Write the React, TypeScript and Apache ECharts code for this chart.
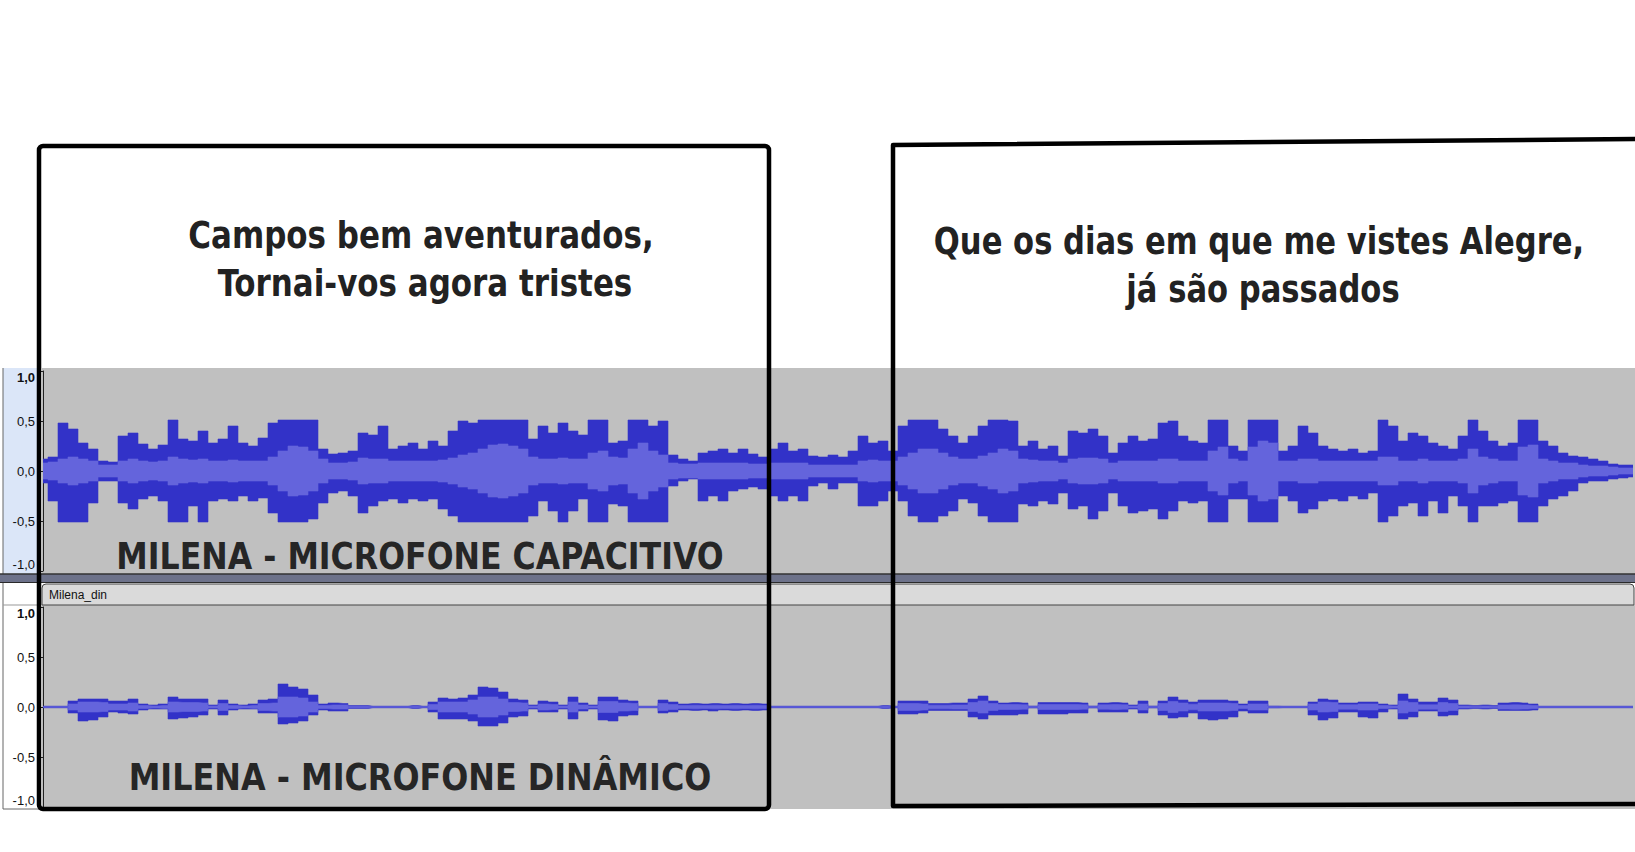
import React, { useEffect, useRef } from "react";
import * as echarts from "echarts";

// sample index (one sample per ~10 screen px along the track)
const t1Top = [
  0.12,0.14,0.48,0.42,0.28,0.22,0.10,0.09,0.35,0.38,
  0.27,0.22,0.26,0.51,0.32,0.30,0.40,0.28,0.32,0.45,
  0.28,0.25,0.33,0.48,0.51,0.51,0.51,0.51,0.22,0.17,
  0.18,0.20,0.38,0.36,0.45,0.22,0.25,0.28,0.22,0.30,
  0.25,0.40,0.50,0.48,0.51,0.51,0.51,0.51,0.51,0.32,
  0.45,0.38,0.48,0.40,
  0.36,0.51,0.51,0.28,0.30,0.51,0.51,0.45,0.50,0.16,
  0.12,0.10,0.18,0.20,0.22,0.18,0.22,0.17,0.14,0.22,
  0.28,0.20,0.22,0.15,0.14,0.16,0.14,0.20,0.35,0.28,
  0.30,0.20,0.45,0.51,0.51,0.51,0.42,0.35,0.28,0.35,
  0.45,0.51,0.51,0.50,0.25,0.30,0.22,0.25,0.15,0.40,
  0.38,0.42,0.35,
  0.18,0.28,0.35,0.30,0.32,0.48,0.50,0.35,0.30,0.28,
  0.51,0.51,0.25,0.20,0.51,0.51,0.51,0.20,0.25,0.45,
  0.38,0.25,0.22,0.20,0.22,0.18,0.20,0.51,0.45,0.30,
  0.38,0.35,0.28,0.25,0.22,0.35,0.51,0.40,0.30,0.25,
  0.28,0.51,0.51,0.30,0.25,0.18,0.15,0.14,0.12,0.10,
  0.07,0.06,0.06,
];
const t1Bot = [
  0.12,0.30,0.51,0.51,0.51,0.32,0.10,0.10,0.32,0.38,
  0.28,0.25,0.30,0.51,0.51,0.35,0.51,0.30,0.28,0.30,
  0.25,0.30,0.27,0.42,0.51,0.51,0.51,0.48,0.32,0.22,
  0.20,0.25,0.42,0.35,0.30,0.28,0.32,0.28,0.30,0.28,
  0.38,0.45,0.51,0.51,0.51,0.51,0.51,0.51,0.51,0.45,
  0.30,0.40,0.51,0.40,
  0.28,0.51,0.51,0.33,0.35,0.51,0.51,0.51,0.51,0.15,
  0.10,0.08,0.30,0.25,0.30,0.20,0.18,0.16,0.18,0.25,
  0.30,0.25,0.30,0.15,0.12,0.18,0.12,0.12,0.35,0.35,
  0.30,0.20,0.30,0.45,0.51,0.51,0.45,0.40,0.28,0.32,
  0.45,0.51,0.51,0.51,0.33,0.35,0.30,0.33,0.22,0.38,
  0.35,0.48,0.40,
  0.22,0.35,0.42,0.40,0.38,0.48,0.40,0.30,0.32,0.30,
  0.51,0.51,0.28,0.28,0.51,0.51,0.51,0.25,0.30,0.42,
  0.38,0.30,0.28,0.30,0.25,0.28,0.22,0.51,0.45,0.35,
  0.32,0.45,0.30,0.42,0.25,0.35,0.51,0.35,0.35,0.32,
  0.30,0.51,0.51,0.35,0.28,0.25,0.20,0.12,0.10,0.10,
  0.08,0.07,0.06,
];
const t1Rms = [
  0.08,0.09,0.12,0.14,0.12,0.10,0.06,0.06,0.10,0.12,
  0.10,0.09,0.10,0.14,0.12,0.11,0.12,0.10,0.10,0.11,
  0.10,0.10,0.10,0.14,0.20,0.25,0.24,0.20,0.12,0.08,
  0.08,0.09,0.13,0.12,0.12,0.10,0.10,0.10,0.10,0.10,
  0.11,0.13,0.16,0.18,0.22,0.26,0.27,0.25,0.22,0.14,
  0.12,0.12,0.13,0.12,
  0.12,0.18,0.20,0.14,0.13,0.22,0.28,0.20,0.16,0.08,
  0.07,0.07,0.08,0.08,0.08,0.08,0.08,0.07,0.07,0.08,
  0.08,0.08,0.08,0.06,0.06,0.06,0.06,0.06,0.10,0.11,
  0.10,0.10,0.14,0.18,0.22,0.22,0.18,0.14,0.12,0.12,
  0.15,0.18,0.22,0.20,0.12,0.11,0.10,0.10,0.08,0.12,
  0.13,0.13,0.12,
  0.08,0.10,0.10,0.10,0.10,0.12,0.12,0.10,0.10,0.10,
  0.20,0.24,0.12,0.10,0.24,0.30,0.28,0.10,0.10,0.12,
  0.12,0.10,0.10,0.10,0.10,0.10,0.10,0.14,0.14,0.10,
  0.10,0.12,0.10,0.10,0.10,0.12,0.22,0.14,0.12,0.10,
  0.10,0.24,0.26,0.12,0.10,0.08,0.08,0.06,0.05,0.05,
  0.04,0.03,0.03,
];

const t2Top = [
  0.008,0.008,0.008,0.06,0.08,0.08,0.08,0.06,0.06,0.08,
  0.03,0.02,0.03,0.10,0.08,0.08,0.08,0.02,0.07,0.03,
  0.02,0.03,0.07,0.08,0.23,0.20,0.18,0.12,0.03,0.04,
  0.035,0.015,0.015,0.008,0.008,0.008,0.008,0.015,0.008,0.05,
  0.09,0.08,0.09,0.12,0.20,0.19,0.15,0.08,0.07,0.02,
  0.06,0.05,0.02,0.10,0.04,0.02,0.10,0.10,0.07,0.06,
  0.008,0.008,0.07,0.05,0.03,0.035,0.03,0.035,0.03,0.035,
  0.03,0.035,0.03,0.008,0.008,0.008,0.008,0.008,0.008,0.008,
  0.008,0.008,0.008,0.008,0.015,0.008,0.06,0.06,0.06,0.035,
  0.035,0.04,0.04,0.08,0.11,0.06,0.04,0.045,0.04,0.01,
  0.045,0.045,0.045,0.045,0.04,0.01,0.04,0.045,0.04,0.02,
  0.06,0.01,0.06,0.10,0.07,0.05,0.07,0.07,0.07,0.06,
  0.03,0.06,0.06,0.01,0.008,0.008,0.008,0.05,0.08,0.07,
  0.04,0.04,0.05,0.05,0.03,0.02,0.13,0.08,0.05,0.05,
  0.09,0.07,0.02,0.015,0.02,0.015,0.04,0.045,0.04,0.03,
  0.008,0.008,0.008,0.008,0.008,0.008,0.008,0.008,0.008,0.008,
];
const t2Bot = [
  0.008,0.008,0.008,0.06,0.14,0.13,0.10,0.05,0.06,0.07,
  0.03,0.02,0.02,0.12,0.11,0.10,0.08,0.02,0.08,0.03,
  0.02,0.02,0.06,0.06,0.17,0.16,0.14,0.08,0.03,0.04,
  0.04,0.015,0.015,0.008,0.008,0.008,0.008,0.015,0.008,0.05,
  0.12,0.12,0.12,0.14,0.19,0.19,0.16,0.10,0.09,0.02,
  0.05,0.05,0.02,0.12,0.04,0.02,0.13,0.14,0.09,0.08,
  0.008,0.008,0.06,0.05,0.03,0.035,0.03,0.04,0.03,0.035,
  0.03,0.035,0.03,0.008,0.008,0.008,0.008,0.008,0.008,0.008,
  0.008,0.008,0.008,0.008,0.015,0.008,0.07,0.07,0.06,0.035,
  0.035,0.035,0.035,0.10,0.12,0.08,0.08,0.08,0.07,0.01,
  0.07,0.07,0.07,0.06,0.06,0.01,0.05,0.05,0.05,0.02,
  0.06,0.01,0.08,0.11,0.10,0.06,0.12,0.13,0.12,0.10,
  0.04,0.06,0.06,0.01,0.008,0.008,0.008,0.08,0.13,0.11,
  0.05,0.05,0.10,0.11,0.05,0.02,0.12,0.10,0.04,0.04,
  0.09,0.08,0.02,0.015,0.02,0.015,0.035,0.035,0.035,0.03,
  0.008,0.008,0.008,0.008,0.008,0.008,0.008,0.008,0.008,0.008,
];
const t2Rms = [
  0.004,0.004,0.004,0.03,0.05,0.05,0.045,0.03,0.03,0.04,
  0.015,0.01,0.015,0.05,0.045,0.045,0.04,0.01,0.035,0.015,
  0.01,0.015,0.035,0.04,0.10,0.10,0.09,0.05,0.015,0.02,
  0.02,0.008,0.008,0.004,0.004,0.004,0.004,0.008,0.004,0.025,
  0.05,0.05,0.05,0.07,0.10,0.10,0.08,0.045,0.04,0.01,
  0.03,0.025,0.01,0.05,0.02,0.01,0.055,0.055,0.04,0.035,
  0.004,0.004,0.035,0.025,0.015,0.018,0.015,0.018,0.015,0.018,
  0.015,0.018,0.015,0.004,0.004,0.004,0.004,0.004,0.004,0.004,
  0.004,0.004,0.004,0.004,0.008,0.004,0.035,0.035,0.03,0.018,
  0.018,0.02,0.02,0.045,0.06,0.035,0.025,0.025,0.022,0.005,
  0.025,0.025,0.025,0.025,0.022,0.005,0.022,0.025,0.022,0.01,
  0.03,0.005,0.035,0.055,0.04,0.028,0.04,0.04,0.04,0.035,
  0.015,0.03,0.03,0.005,0.004,0.004,0.004,0.03,0.05,0.045,
  0.022,0.022,0.03,0.03,0.015,0.01,0.06,0.045,0.022,0.022,
  0.045,0.035,0.01,0.008,0.01,0.008,0.02,0.022,0.02,0.015,
  0.004,0.004,0.004,0.004,0.004,0.004,0.004,0.004,0.004,0.004,
];

const titleLeft = ["Campos bem aventurados,", "Tornai-vos agora tristes"];
const titleRight = ["Que os dias em que me vistes Alegre,", "já são passados"];
const trackLabels = ["MILENA - MICROFONE CAPACITIVO", "MILENA - MICROFONE DINÂMICO"];
const clipName = "Milena_din";

const PEAK = "#3232c8";
const RMS = "#6464dc";
const BG = "#c0c0c0";
const FONT_T = "'Liberation Sans Narrow', 'DejaVu Sans Condensed', 'Liberation Sans', sans-serif";

function band(name: string, vals: number[], sign: number, color: string, idx: number) {
  return {
    name,
    type: "line",
    xAxisIndex: idx,
    yAxisIndex: idx,
    symbol: "none",
    silent: true,
    step: "middle",
    lineStyle: { width: 0.6, color },
    areaStyle: { color, opacity: 1 },
    data: vals.map((v, i) => [i, sign * v]),
  };
}

function bigText(t: string, x: number, y: number, sx: number, fill: string) {
  return {
    type: "text",
    z: 100,
    x,
    y,
    scaleX: sx,
    style: {
      text: t, x: 0, y: 0, textAlign: "center", textVerticalAlign: "middle",
      fontSize: 37, fontWeight: "bold", fontFamily: FONT_T, fill,
    },
  };
}

export default function App() {
  const ref = useRef<HTMLDivElement>(null);
  useEffect(() => {
    if (!ref.current) return;
    const chart = echarts.init(ref.current, undefined, { renderer: "svg" });
    const fmt = (v: number) => {
      const s = v.toFixed(1).replace(".", ",");
      return v === 1 ? "{b|" + s + "}" : s;
    };
    const yAxisCommon = {
      type: "value",
      min: -1,
      max: 1,
      interval: 0.5,
      position: "left",
      offset: 5,
      axisLine: { show: true, lineStyle: { color: "#222", width: 1 } },
      axisTick: { show: true, length: 3, lineStyle: { color: "#222" } },
      splitLine: { show: false },
      axisLabel: {
        margin: 2,
        fontSize: 13,
        color: "#111",
        fontFamily: "'Liberation Sans', Arial, sans-serif",
        formatter: fmt,
        verticalAlignMinLabel: "bottom",
        verticalAlignMaxLabel: "top",
        rich: { b: { fontWeight: "bold", fontSize: 13, color: "#111" } },
      },
    };
    const xAxisCommon = {
      type: "value",
      min: -0.1,
      max: 159.2,
      show: false,
    };
    const graphics: any[] = [
      // ruler backgrounds
      { type: "rect", z: 0, shape: { x: 3, y: 368, width: 34, height: 206 }, style: { fill: "#dbe6f8" } },
      { type: "rect", z: 0, shape: { x: 3, y: 583, width: 34, height: 226 }, style: { fill: "#ffffff" } },
      { type: "line", z: 1, shape: { x1: 3, y1: 368, x2: 3, y2: 809 }, style: { stroke: "#666", lineWidth: 1 } },
      { type: "line", z: 1, shape: { x1: 3, y1: 605, x2: 37, y2: 605 }, style: { stroke: "#999", lineWidth: 1 } },
      { type: "line", z: 1, shape: { x1: 3, y1: 809, x2: 42, y2: 809 }, style: { stroke: "#666", lineWidth: 1 } },
      // track backgrounds
      { type: "rect", z: 0, shape: { x: 42, y: 368, width: 1593, height: 206 }, style: { fill: BG } },
      { type: "rect", z: 0, shape: { x: 42, y: 605, width: 1593, height: 204 }, style: { fill: BG } },
      // separator
      { type: "rect", z: 1, shape: { x: 0, y: 574, width: 1635, height: 9 }, style: { fill: "#6d728a" } },
      { type: "line", z: 1, shape: { x1: 0, y1: 574, x2: 1635, y2: 574 }, style: { stroke: "#333", lineWidth: 1.5 } },
      { type: "line", z: 1, shape: { x1: 0, y1: 582.5, x2: 1635, y2: 582.5 }, style: { stroke: "#2a2a2a", lineWidth: 1 } },
      // clip header
      { type: "rect", z: 1, shape: { x: 42, y: 584, width: 1592, height: 21, r: [4, 4, 0, 0] }, style: { fill: "#dadada", stroke: "#444", lineWidth: 1 } },
      { type: "text", z: 2, style: { text: clipName, x: 49, y: 595, textVerticalAlign: "middle", fontSize: 12, fontFamily: "'Liberation Sans', Arial, sans-serif", fill: "#111" } },
      // titles
      bigText(titleLeft[0], 421, 235, 0.93, "#222"),
      bigText(titleLeft[1], 425, 283, 0.93, "#222"),
      bigText(titleRight[0], 1259, 241, 0.92, "#222"),
      bigText(titleRight[1], 1263, 289, 0.92, "#222"),
      bigText(trackLabels[0], 420, 557, 0.95, "#262626"),
      bigText(trackLabels[1], 420, 777, 0.957, "#262626"),
      // annotation boxes
      { type: "rect", z: 110, shape: { x: 39, y: 146, width: 730, height: 663, r: 4 }, style: { fill: "none", stroke: "#000", lineWidth: 4.5 } },
      { type: "polyline", z: 110, shape: { points: [[1645, 139], [893, 145], [893, 806], [1645, 804]] }, style: { fill: "none", stroke: "#000", lineWidth: 4.5, lineJoin: "round" } },
    ];

    chart.setOption({
      animation: false,
      backgroundColor: "#ffffff",
      grid: [
        { left: 42, right: 0, top: 371, height: 200 },
        { left: 42, right: 0, top: 607, height: 200 },
      ],
      xAxis: [
        { ...xAxisCommon, gridIndex: 0 },
        { ...xAxisCommon, gridIndex: 1 },
      ],
      yAxis: [
        { ...yAxisCommon, gridIndex: 0 },
        { ...yAxisCommon, gridIndex: 1 },
      ],
      series: [
        band("Capacitivo pico +", t1Top, 1, PEAK, 0),
        band("Capacitivo pico -", t1Bot, -1, PEAK, 0),
        band("Capacitivo RMS +", t1Rms, 1, RMS, 0),
        band("Capacitivo RMS -", t1Rms, -1, RMS, 0),
        band("Dinâmico pico +", t2Top, 1, PEAK, 1),
        band("Dinâmico pico -", t2Bot, -1, PEAK, 1),
        band("Dinâmico RMS +", t2Rms, 1, RMS, 1),
        band("Dinâmico RMS -", t2Rms, -1, RMS, 1),
      ],
      graphic: graphics,
    });
    return () => chart.dispose();
  }, []);
  return (
    <div
      ref={ref}
      style={{ position: "fixed", left: 0, top: 0, width: 1635, height: 852, background: "#fff" }}
    />
  );
}
